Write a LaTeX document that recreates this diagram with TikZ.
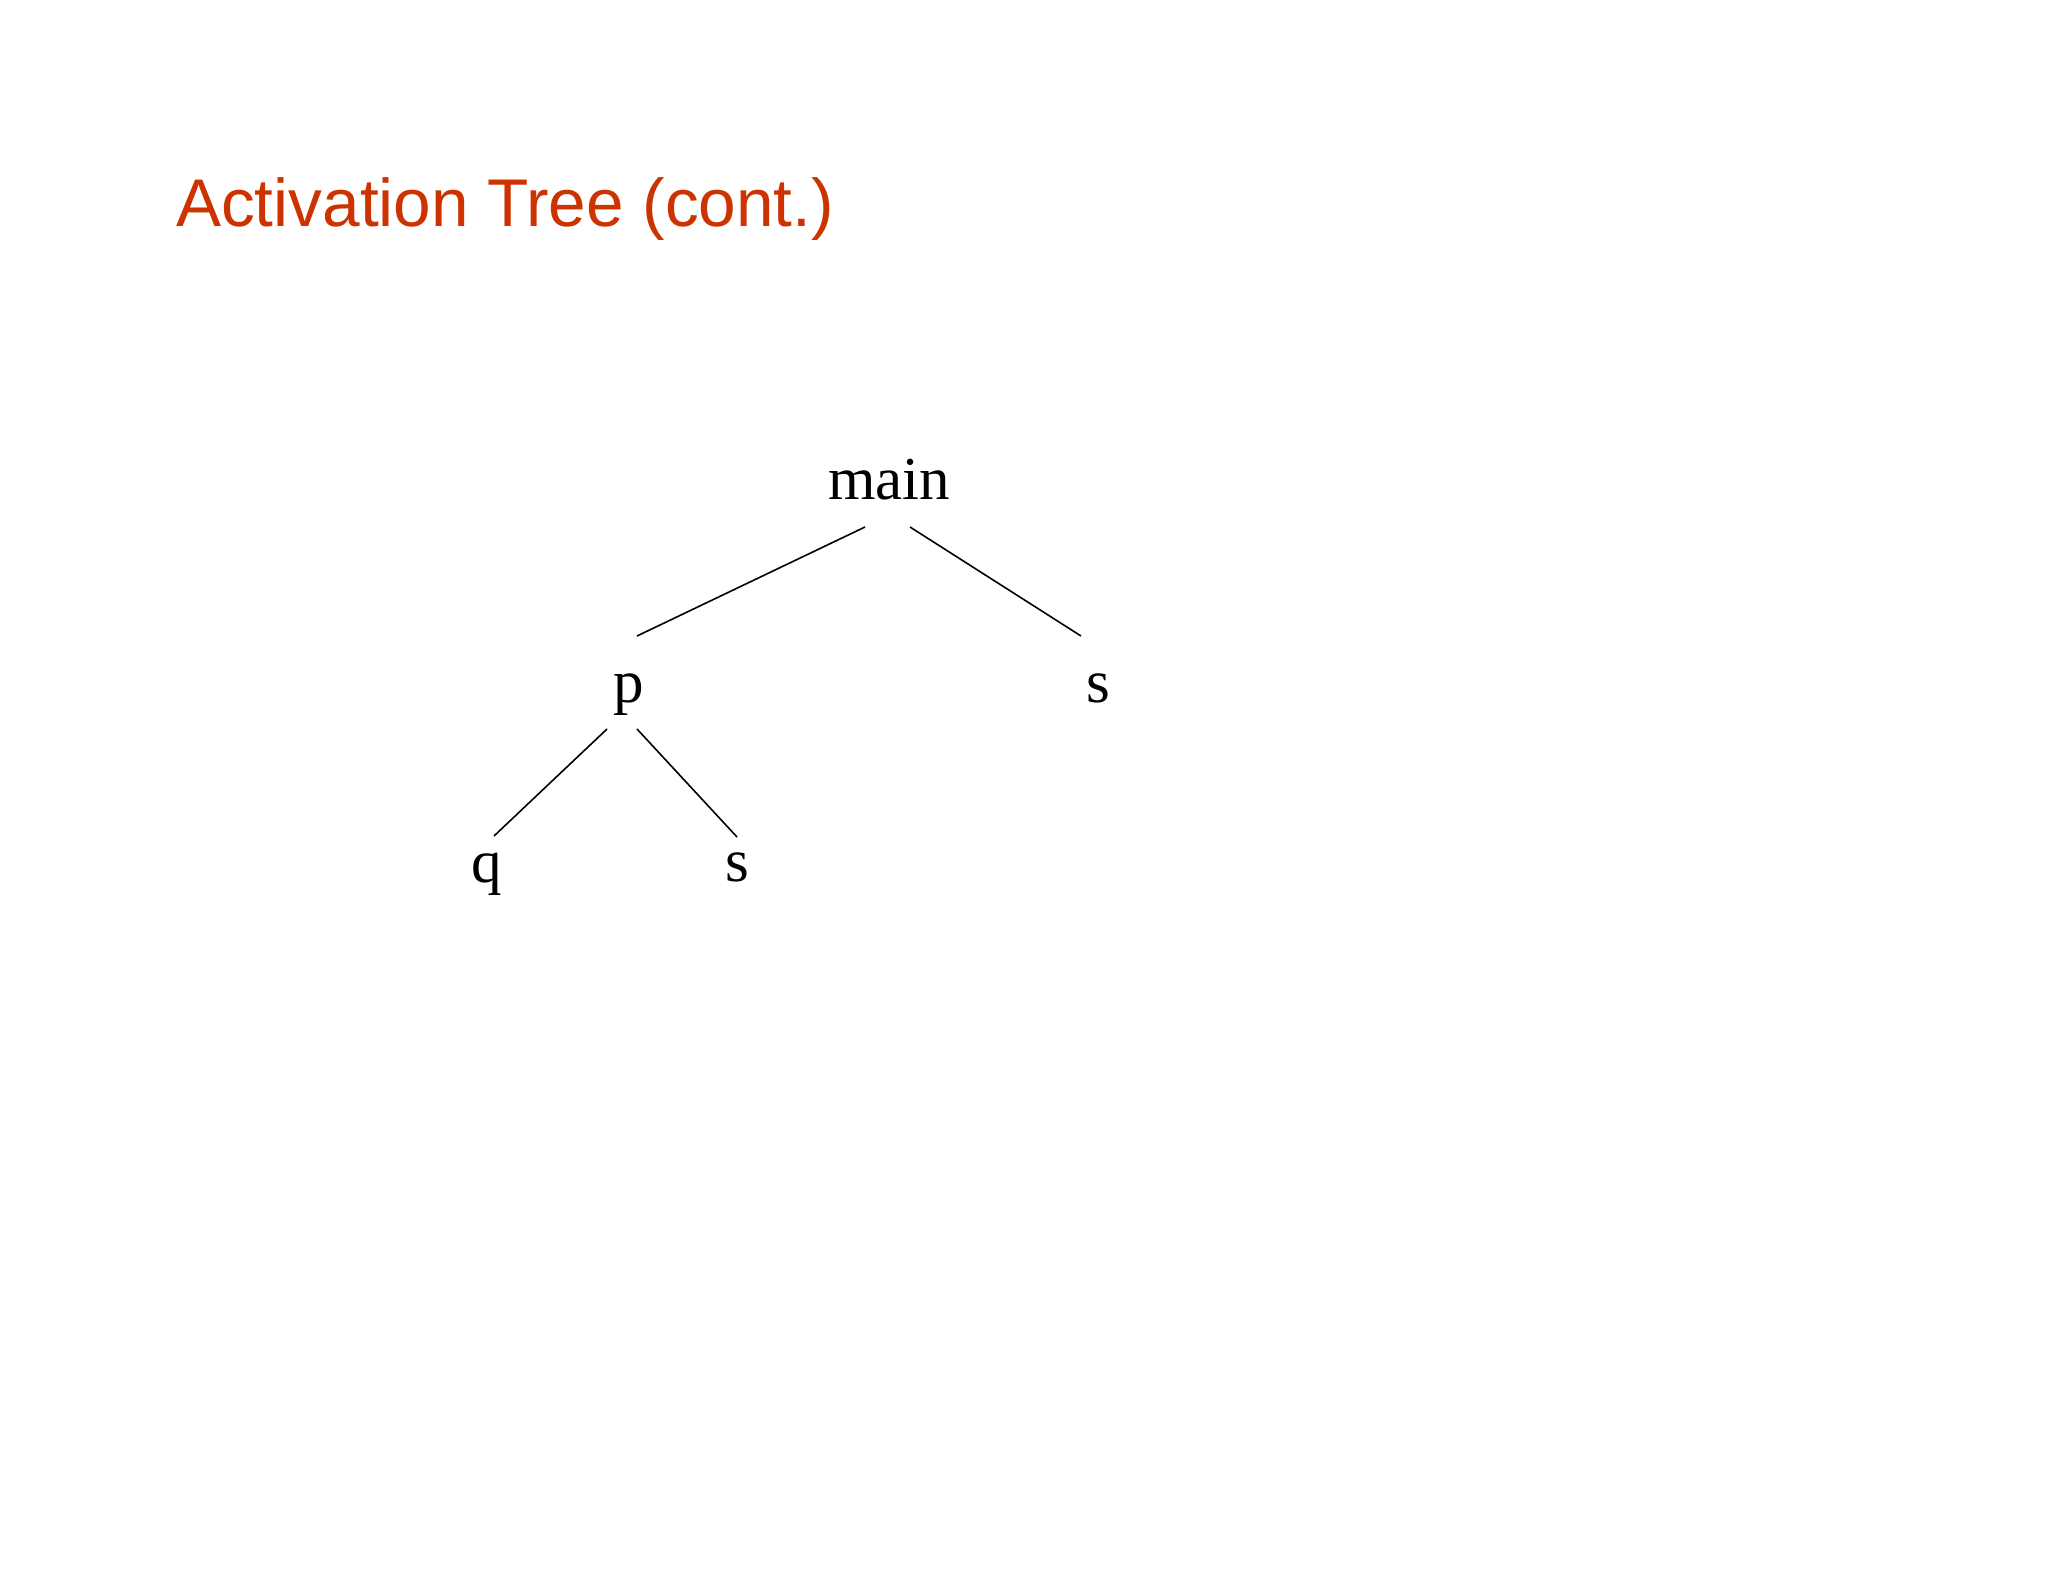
\documentclass[tikz,border=0pt]{standalone}
\usepackage{fontspec}
\setmainfont{Liberation Serif}
\newfontfamily\titlefont{Liberation Sans}
\definecolor{titlered}{RGB}{204,51,0}
\begin{document}
\begin{tikzpicture}[x=1pt,y=-1pt,
  treenode/.style={inner sep=0pt, anchor=base, font=\fontsize{61}{72}\selectfont},
  edge/.style={draw=black, line width=1.6pt}]
\fill[white] (0,0) rectangle (2048,1582);
\useasboundingbox (0,0) rectangle (2048,1582);
\node[inner sep=0pt, anchor=base west, text=titlered, font=\titlefont\fontsize{67.5}{80}\selectfont] (title) at (176,226) {Activation Tree (cont.)};
\node[treenode] (main) at (889,499) {main};
\node[treenode] (p) at (629,702) {p};
\node[treenode] (s1) at (1098,702) {s};
\node[treenode] (q) at (487,882) {q};
\node[treenode] (s2) at (737,881) {s};
\draw[edge] ([shift={(-24,28)}]main.base) -- ([shift={(8,-66)}]p.base);
\draw[edge] ([shift={(21,28)}]main.base) -- ([shift={(-17,-66)}]s1.base);
\draw[edge] ([shift={(-22,27)}]p.base) -- ([shift={(7,-46)}]q.base);
\draw[edge] ([shift={(8,27)}]p.base) -- ([shift={(0,-44)}]s2.base);
\end{tikzpicture}
\end{document}
